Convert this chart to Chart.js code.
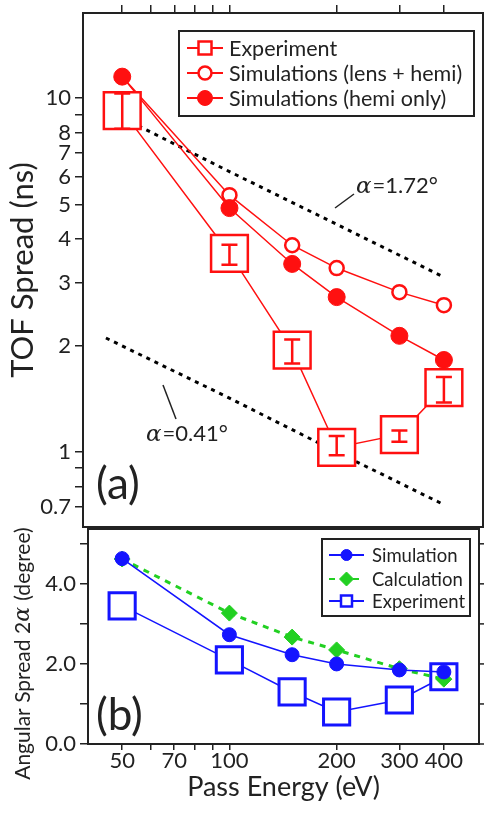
<!DOCTYPE html>
<html>
<head>
<meta charset="utf-8">
<script src="https://cdn.jsdelivr.net/npm/chart.js@4.4.1/dist/chart.umd.min.js"></script>
<style>
  html, body { margin: 0; padding: 0; background: #fff; }
  #wrap { position: relative; width: 484px; height: 813px; overflow: hidden; }
  canvas { position: absolute; left: 0; }
  #chartA { top: 0; }
  #chartB { top: 528px; }
</style>
</head>
<body>
<div id="wrap">
  <canvas id="chartA" width="484" height="528"></canvas>
  <canvas id="chartB" width="484" height="285"></canvas>
</div>
<script>
// pass energies (eV)
const energies = [50, 100, 150, 200, 300, 400];

// (a) TOF spread (ns)
const tofExperiment = [9.22, 3.64, 1.94, 1.03, 1.12, 1.52];
const tofExpLow = [8.2, 3.38, 1.78, 0.98, 1.07, 1.38];
const tofExpHigh = [10.3, 3.85, 2.08, 1.11, 1.15, 1.63];
const tofSimLens = [11.5, 5.32, 3.84, 3.31, 2.83, 2.6];
const tofSimHemi = [11.5, 4.89, 3.4, 2.74, 2.13, 1.82];
const alphaHighE = [50, 100, 200, 400];
const alphaHigh = [8.8, 6.2, 4.4, 3.12];
const alphaLowE = [45, 100, 200, 400];
const alphaLow = [2.1, 1.42, 1.0, 0.71];

// (b) angular spread 2 alpha (degree)
const angSimulation = [4.63, 2.73, 2.23, 2.0, 1.85, 1.8];
const angCalculation = [4.62, 3.27, 2.67, 2.35, 1.88, 1.62];
const angExperiment = [3.45, 2.1, 1.3, 0.8, 1.1, 1.68];

// tick labels
const xTicks = [50, 60, 70, 80, 90, 100, 200, 300, 400];
const xTickLabels = ['50', '', '70', '', '', '100', '200', '300', '400'];
const tofTicks = [0.7, 0.8, 0.9, 1, 2, 3, 4, 5, 6, 7, 8, 9, 10];
const tofTickLabels = ['0.7', '', '', '1', '2', '3', '4', '5', '6', '7', '8', '', '10'];
const angTicks = [0, 1, 2, 3, 4, 5];
const angTickLabels = ['0.0', '', '2.0', '', '4.0', ''];

const RED = '#ff1010';
const BLUE = '#1414ff';
const GREEN = '#22d022';
const INK = '#222';
const FONT = 'Lato, "Open Sans", sans-serif';

const pts = (xs, ys) => xs.map((x, i) => ({ x: x, y: ys[i] }));

// frame round the plot plus outward ticks on the right side
const framePlugin = {
  id: 'frame',
  afterDraw(chart) {
    const { ctx, chartArea: a, scales } = chart;
    ctx.save();
    ctx.strokeStyle = INK;
    ctx.lineWidth = 2;
    ctx.strokeRect(a.left, a.top, a.right - a.left, a.bottom - a.top);
    ctx.lineWidth = 1.5;
    scales.y.ticks.forEach(t => {
      const py = scales.y.getPixelForValue(t.value);
      ctx.beginPath();
      ctx.moveTo(a.right, py);
      ctx.lineTo(a.right + 8, py);
      ctx.stroke();
    });
    ctx.restore();
  }
};

// legend with line + marker samples
function drawMarker(ctx, style, x, y, r, color, filled) {
  ctx.beginPath();
  if (style === 'rect') ctx.rect(x - r, y - r, 2 * r, 2 * r);
  else if (style === 'rectRot') { ctx.moveTo(x, y - r); ctx.lineTo(x + r, y); ctx.lineTo(x, y + r); ctx.lineTo(x - r, y); ctx.closePath(); }
  else ctx.arc(x, y, r, 0, Math.PI * 2);
  ctx.fillStyle = filled ? color : '#fff';
  ctx.fill();
  ctx.strokeStyle = color;
  ctx.stroke();
}

const legendPlugin = {
  id: 'boxLegend',
  afterDraw(chart, args, o) {
    const ctx = chart.ctx;
    ctx.save();
    ctx.fillStyle = '#fff';
    ctx.fillRect(o.box[0], o.box[1], o.box[2], o.box[3]);
    ctx.strokeStyle = INK;
    ctx.lineWidth = 2;
    ctx.strokeRect(o.box[0], o.box[1], o.box[2], o.box[3]);
    o.items.forEach((it, i) => {
      const ds = chart.data.datasets[it.index];
      const y = o.rows[i];
      ctx.lineWidth = 2;
      ctx.strokeStyle = ds.borderColor;
      ctx.setLineDash(ds.borderDash || []);
      ctx.beginPath();
      ctx.moveTo(o.lineX[0], y);
      ctx.lineTo(o.lineX[1], y);
      ctx.stroke();
      ctx.setLineDash([]);
      ctx.lineWidth = it.filled ? 1 : 2.5;
      drawMarker(ctx, it.style, (o.lineX[0] + o.lineX[1]) / 2, y, it.r, ds.borderColor, it.filled);
      ctx.fillStyle = INK;
      ctx.font = o.font;
      ctx.textBaseline = 'middle';
      ctx.fillText(ds.label, o.textX, y + 1);
    });
    ctx.restore();
  }
};

// error bars inside the experiment squares
const errorBarPlugin = {
  id: 'errBars',
  afterDatasetsDraw(chart) {
    const { ctx, scales } = chart;
    ctx.save();
    ctx.strokeStyle = RED;
    ctx.lineWidth = 2.5;
    energies.forEach((e, i) => {
      const px = scales.x.getPixelForValue(e);
      const y1 = scales.y.getPixelForValue(tofExpLow[i]);
      const y2 = scales.y.getPixelForValue(tofExpHigh[i]);
      ctx.beginPath();
      ctx.moveTo(px, y1); ctx.lineTo(px, y2);
      ctx.moveTo(px - 8, y1); ctx.lineTo(px + 8, y1);
      ctx.moveTo(px - 8, y2); ctx.lineTo(px + 8, y2);
      ctx.stroke();
    });
    ctx.restore();
  }
};

// text with an italic serif alpha in it
function mixedText(ctx, x, y, before, after, size) {
  ctx.font = size + 'px ' + FONT;
  ctx.fillText(before, x, y);
  x += ctx.measureText(before).width;
  ctx.font = 'italic ' + (size + 1) + 'px "DejaVu Serif", serif';
  ctx.fillText('\u03b1', x, y);
  x += ctx.measureText('\u03b1').width + 1;
  ctx.font = size + 'px ' + FONT;
  ctx.fillText(after, x, y);
}

const notesA = {
  id: 'notesA',
  afterDraw(chart) {
    const ctx = chart.ctx;
    ctx.save();
    ctx.fillStyle = INK;
    ctx.strokeStyle = INK;
    ctx.lineWidth = 1.5;
    ctx.textBaseline = 'alphabetic';
    mixedText(ctx, 356, 193, '', '=1.72\u00b0', 22);
    ctx.beginPath(); ctx.moveTo(335, 208); ctx.lineTo(354, 194); ctx.stroke();
    mixedText(ctx, 146, 441, '', '=0.41\u00b0', 22);
    ctx.beginPath(); ctx.moveTo(163, 385); ctx.lineTo(176, 419); ctx.stroke();
    ctx.font = '44px ' + FONT;
    ctx.textBaseline = 'middle';
    ctx.fillText('(a)', 96, 485);
    ctx.restore();
  }
};

const notesB = {
  id: 'notesB',
  afterDraw(chart) {
    const ctx = chart.ctx;
    ctx.save();
    ctx.fillStyle = INK;
    ctx.font = '44px ' + FONT;
    ctx.textBaseline = 'middle';
    ctx.fillText('(b)', 96, 188);
    // y axis title, rotated
    ctx.translate(23, 127);
    ctx.rotate(-Math.PI / 2);
    ctx.font = '21px ' + FONT;
    const full = ctx.measureText('Angular Spread 2').width + ctx.measureText(' (degree)').width + 13;
    mixedText(ctx, -full / 2, 0, 'Angular Spread 2', ' (degree)', 21);
    ctx.restore();
  }
};

const gridOpts = { drawOnChartArea: false, drawTicks: true, tickLength: 8, color: INK, lineWidth: 1.5 };

function fixedTicks(values) {
  return scale => { scale.ticks = values.map(v => ({ value: v })); };
}
// fixed axis size, no extra room for labels overhanging the plot
function fixedSize(prop, size) {
  return s => {
    s[prop] = size;
    s.paddingTop = s.paddingBottom = s.paddingLeft = s.paddingRight = 0;
  };
}

new Chart(document.getElementById('chartA'), {
  type: 'line',
  data: {
    datasets: [
      {
        label: 'Experiment', data: pts(energies, tofExperiment), order: 0,
        borderColor: RED, borderWidth: 1.5, pointStyle: 'rect', pointRadius: 26,
        pointBackgroundColor: '#fff', pointBorderColor: RED, pointBorderWidth: 2.5
      },
      {
        label: 'Simulations (lens + hemi)', data: pts(energies, tofSimLens), order: 2,
        borderColor: RED, borderWidth: 1.5, pointStyle: 'circle', pointRadius: 7,
        pointBackgroundColor: '#fff', pointBorderColor: RED, pointBorderWidth: 2.5
      },
      {
        label: 'Simulations (hemi only)', data: pts(energies, tofSimHemi), order: 1,
        borderColor: RED, borderWidth: 1.5, pointStyle: 'circle', pointRadius: 8.5,
        pointBackgroundColor: RED, pointBorderColor: RED, pointBorderWidth: 1
      },
      {
        label: 'alpha 1.72', data: pts(alphaHighE, alphaHigh), order: 3,
        borderColor: '#000', borderWidth: 3, borderDash: [4, 5], pointRadius: 0
      },
      {
        label: 'alpha 0.41', data: pts(alphaLowE, alphaLow), order: 3,
        borderColor: '#000', borderWidth: 3, borderDash: [4, 5], pointRadius: 0
      }
    ]
  },
  options: {
    responsive: false,
    animation: false,
    devicePixelRatio: 1,
    layout: { autoPadding: false, padding: { top: 0, right: 1, bottom: 1, left: 0 } },
    plugins: {
      legend: { display: false },
      tooltip: { enabled: false },
      boxLegend: {
        box: [179, 31, 295, 85], rows: [48, 73, 98], lineX: [187, 223], textX: 229,
        font: '21.5px ' + FONT,
        items: [
          { index: 0, style: 'rect', r: 6.5, filled: false },
          { index: 1, style: 'circle', r: 6.5, filled: false },
          { index: 2, style: 'circle', r: 7.5, filled: true }
        ]
      }
    },
    scales: {
      x: {
        type: 'logarithmic', position: 'top', min: 38.8, max: 515, bounds: 'data',
        afterBuildTicks: fixedTicks(xTicks),
        afterFit: fixedSize('height', 13),
        ticks: { display: false },
        grid: gridOpts,
        border: { display: false }
      },
      y: {
        type: 'logarithmic', min: 0.614, max: 17.4, bounds: 'data',
        afterBuildTicks: fixedTicks(tofTicks),
        afterFit: fixedSize('width', 83),
        ticks: {
          color: INK, padding: 4, font: { family: FONT, size: 22 },
          callback: (v) => tofTickLabels[tofTicks.indexOf(v)] ?? ''
        },
        title: { display: true, text: 'TOF Spread (ns)', color: INK, font: { family: FONT, size: 31 }, padding: { top: 4, bottom: 0 } },
        grid: gridOpts,
        border: { display: false }
      }
    }
  },
  plugins: [framePlugin, errorBarPlugin, notesA, legendPlugin]
});

new Chart(document.getElementById('chartB'), {
  type: 'line',
  data: {
    datasets: [
      {
        label: 'Simulation', data: pts(energies, angSimulation),
        borderColor: BLUE, borderWidth: 1.5, pointStyle: 'circle', pointRadius: 7,
        pointBackgroundColor: BLUE, pointBorderColor: BLUE, pointBorderWidth: 1
      },
      {
        label: 'Calculation', data: pts(energies, angCalculation),
        borderColor: GREEN, borderWidth: 3, borderDash: [6, 6], pointStyle: 'rectRot', pointRadius: 8,
        pointBackgroundColor: GREEN, pointBorderColor: GREEN, pointBorderWidth: 1
      },
      {
        label: 'Experiment', data: pts(energies, angExperiment),
        borderColor: BLUE, borderWidth: 1.5, pointStyle: 'rect', pointRadius: 18.5,
        pointBackgroundColor: '#fff', pointBorderColor: BLUE, pointBorderWidth: 3
      }
    ]
  },
  options: {
    responsive: false,
    animation: false,
    devicePixelRatio: 1,
    layout: { autoPadding: false, padding: { top: 1, right: 5, bottom: 0, left: 0 } },
    plugins: {
      legend: { display: false },
      tooltip: { enabled: false },
      boxLegend: {
        box: [322, 11, 148, 77], rows: [27, 51, 73], lineX: [329, 364], textX: 372,
        font: '18.5px ' + FONT,
        items: [
          { index: 0, style: 'circle', r: 5.5, filled: true },
          { index: 1, style: 'rectRot', r: 7, filled: true },
          { index: 2, style: 'rect', r: 5.5, filled: false }
        ]
      }
    },
    scales: {
      x: {
        type: 'logarithmic', min: 40.1, max: 502, bounds: 'data',
        afterBuildTicks: fixedTicks(xTicks),
        afterFit: fixedSize('height', 69),
        ticks: {
          color: INK, padding: 0, maxRotation: 0, autoSkip: false, font: { family: FONT, size: 22, lineHeight: 1 },
          callback: (v) => xTickLabels[xTicks.indexOf(v)] ?? ''
        },
        title: { display: true, text: 'Pass Energy (eV)', color: INK, font: { family: FONT, size: 27 }, padding: { top: 0, bottom: 10 } },
        grid: Object.assign({}, gridOpts, { tickLength: 6 }),
        border: { display: false }
      },
      y: {
        min: 0, max: 5.37, bounds: 'data',
        afterBuildTicks: fixedTicks(angTicks),
        afterFit: fixedSize('width', 88),
        ticks: {
          color: INK, padding: 4, font: { family: FONT, size: 22 },
          callback: (v) => angTickLabels[angTicks.indexOf(v)] ?? ''
        },
        grid: gridOpts,
        border: { display: false }
      }
    }
  },
  plugins: [framePlugin, notesB, legendPlugin]
});
</script>
</body>
</html>
